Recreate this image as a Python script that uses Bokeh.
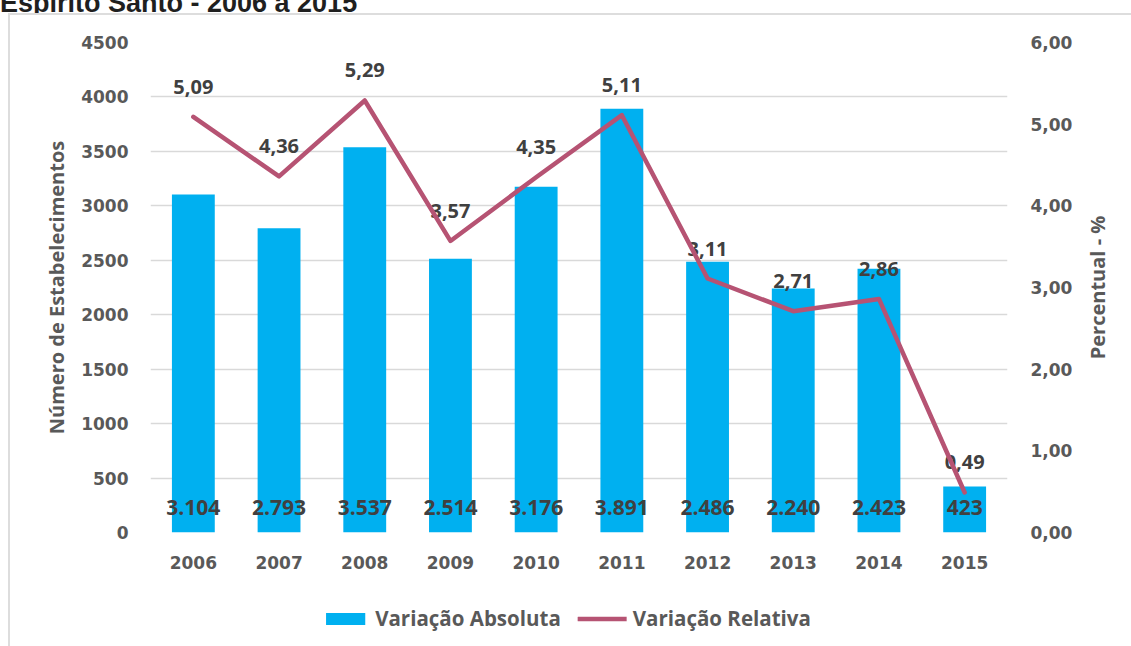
from bokeh.plotting import figure
from bokeh.models import (FactorRange, Range1d, LinearAxis, FixedTicker, CustomJSTickFormatter,
                          ColumnDataSource, Legend, LegendItem, InlineStyleSheet, Column, Row, Div)
from bokeh.core.properties import value
from bokeh.embed import file_html
from bokeh.resources import INLINE

title = "Espírito Santo - 2006 a 2015"
years = ["2006", "2007", "2008", "2009", "2010", "2011", "2012", "2013", "2014", "2015"]
absoluta = [3104, 2793, 3537, 2514, 3176, 3891, 2486, 2240, 2423, 423]
relativa = [5.09, 4.36, 5.29, 3.57, 4.35, 5.11, 3.11, 2.71, 2.86, 0.49]
left_ticks = [0, 500, 1000, 1500, 2000, 2500, 3000, 3500, 4000, 4500]
right_ticks = [0, 1, 2, 3, 4, 5, 6]
y_title_left = "Número de Estabelecimentos"
y_title_right = "Percentual - %"
legend_labels = ["Variação Absoluta", "Variação Relativa"]

BAR = "#00B0F0"
LINE = "#B65373"
TICK = "#595959"
LAB = "#404040"
GRID = "#D9D9D9"
W = 1131
W_MAIN = 1075
H_MAIN = 577

src = ColumnDataSource(dict(
    year=years,
    absoluta=absoluta,
    relativa=relativa,
    zero=[0] * len(years),
    abs_lab=[f"{v:,}".replace(",", ".") for v in absoluta],
    rel_lab=[f"{v:.2f}".replace(".", ",") for v in relativa],
))

# ---- title strip (the title is cut at the top, as in the original) ----
title_div = Div(
    text=(f'<div style="font: bold 27px \'Liberation Sans\'; color: #1F1F1F; line-height: 27px; '
          f'margin-top: -15px; white-space: nowrap;">{title}</div>'),
    width=W, height=13, styles={"overflow": "hidden", "margin": "0", "padding": "0"})

tick_font = "DejaVu Sans"


def style_axis(ax, standoff):
    ax.axis_line_color = None
    ax.major_tick_line_color = None
    ax.minor_tick_line_color = None
    ax.major_tick_out = 0
    ax.major_tick_in = 0
    ax.minor_tick_out = 0
    ax.minor_tick_in = 0
    ax.major_label_standoff = standoff
    ax.major_label_text_font = tick_font
    ax.major_label_text_font_style = "bold"
    ax.major_label_text_font_size = "17px"
    ax.major_label_text_color = TICK
    ax.axis_label_text_font = "Open Sans"
    ax.axis_label_text_font_style = "bold"
    ax.axis_label_text_font_size = "20px"
    ax.axis_label_text_color = TICK


# ---- main chart ----
p = figure(x_range=FactorRange(*years), y_range=Range1d(0, 4500),
           width=W_MAIN, height=H_MAIN, output_backend="svg", toolbar_location=None,
           min_border_left=150, min_border_right=W_MAIN - 1007,
           min_border_top=29, min_border_bottom=58)
p.extra_y_ranges = {"pct": Range1d(0, 6)}
p.outline_line_color = None
p.background_fill_color = "white"
p.border_fill_color = None

p.xgrid.grid_line_color = None
p.ygrid.grid_line_color = GRID
p.ygrid.grid_line_width = 1.5
p.ygrid.ticker = FixedTicker(ticks=left_ticks)

ya = p.yaxis[0]
ya.ticker = FixedTicker(ticks=left_ticks)
style_axis(ya, 22)
ya.axis_label = y_title_left
ya.axis_label_standoff = 8

ra = LinearAxis(y_range_name="pct", ticker=FixedTicker(ticks=right_ticks),
                formatter=CustomJSTickFormatter(code="return tick.toFixed(2).replace('.', ',');"))
style_axis(ra, 23)
p.add_layout(ra, "right")

xa = p.xaxis[0]
style_axis(xa, 23)

bars = p.vbar(x="year", top="absoluta", width=0.5, source=src,
              fill_color=BAR, line_color=None)

p.text(x="year", y="zero", text="abs_lab", source=src, y_offset=-25,
       text_font=value("Open Sans"), text_font_style="bold", text_font_size="21px",
       text_color=LAB, text_align="center", text_baseline="middle")
p.text(x="year", y="relativa", text="rel_lab", source=src, y_range_name="pct", y_offset=-30,
       text_font=value("Open Sans"), text_font_style="bold", text_font_size="20px",
       text_color=LAB, text_align="center", text_baseline="middle")

line = p.line(x="year", y="relativa", source=src, y_range_name="pct",
              line_color=LINE, line_width=4.5, line_join="round", line_cap="round")

# ---- right title strip: a left-side axis title reads bottom-to-top, centred ----
p3 = figure(width=W - W_MAIN, height=H_MAIN, x_range=Range1d(0, 1), y_range=Range1d(0, 6),
            x_axis_type=None, output_backend="svg", toolbar_location=None,
            min_border_left=35, min_border_right=0, min_border_top=29, min_border_bottom=58)
p3.outline_line_color = None
p3.grid.visible = False
p3.background_fill_color = None
p3.border_fill_color = None
ta = p3.yaxis[0]
ta.ticker = FixedTicker(ticks=[])
style_axis(ta, 0)
ta.axis_label = y_title_right
ta.axis_label_standoff = 0

# ---- legend strip ----
p2 = figure(width=W, height=56, x_range=Range1d(0, 1), y_range=Range1d(0, 1),
            x_axis_type=None, y_axis_type=None, output_backend="svg", toolbar_location=None,
            min_border=0, min_border_left=0, min_border_right=0,
            min_border_top=0, min_border_bottom=0)
p2.outline_line_color = None
p2.grid.visible = False
p2.background_fill_color = None
p2.border_fill_color = None
# proxies for the legend, lying outside the visible range
proxy = ColumnDataSource(dict(x=[-10, -9], y=[-10, -10]))
lg_bar = p2.vbar(x="x", top="y", width=0.5, source=proxy, fill_color=BAR, line_color=None)
lg_line = p2.line(x="x", y="y", source=proxy, line_color=LINE, line_width=4.5, line_cap="round")
legend = Legend(items=[LegendItem(label=legend_labels[0], renderers=[lg_bar]),
                       LegendItem(label=legend_labels[1], renderers=[lg_line])],
                orientation="horizontal", location="center",
                padding=0, margin=0, spacing=17, label_standoff=6,
                glyph_width=49, glyph_height=15,
                label_text_font="Open Sans", label_text_font_style="bold",
                label_text_font_size="20.5px", label_text_color=TICK,
                background_fill_alpha=0, border_line_color=None)
p2.add_layout(legend, "center")

border_css = InlineStyleSheet(css="""
:host::after {
  content: ""; position: absolute; left: 8px; top: 13px; right: 0; bottom: 0;
  border-left: 2px solid #DDDDDD; border-top: 2px solid #DDDDDD;
  pointer-events: none; box-sizing: border-box;
}
""")

layout = Column(children=[title_div, Row(children=[p, p3], spacing=0), p2],
                spacing=0, stylesheets=[border_css])

open("out.html", "w").write(file_html(layout, INLINE))
